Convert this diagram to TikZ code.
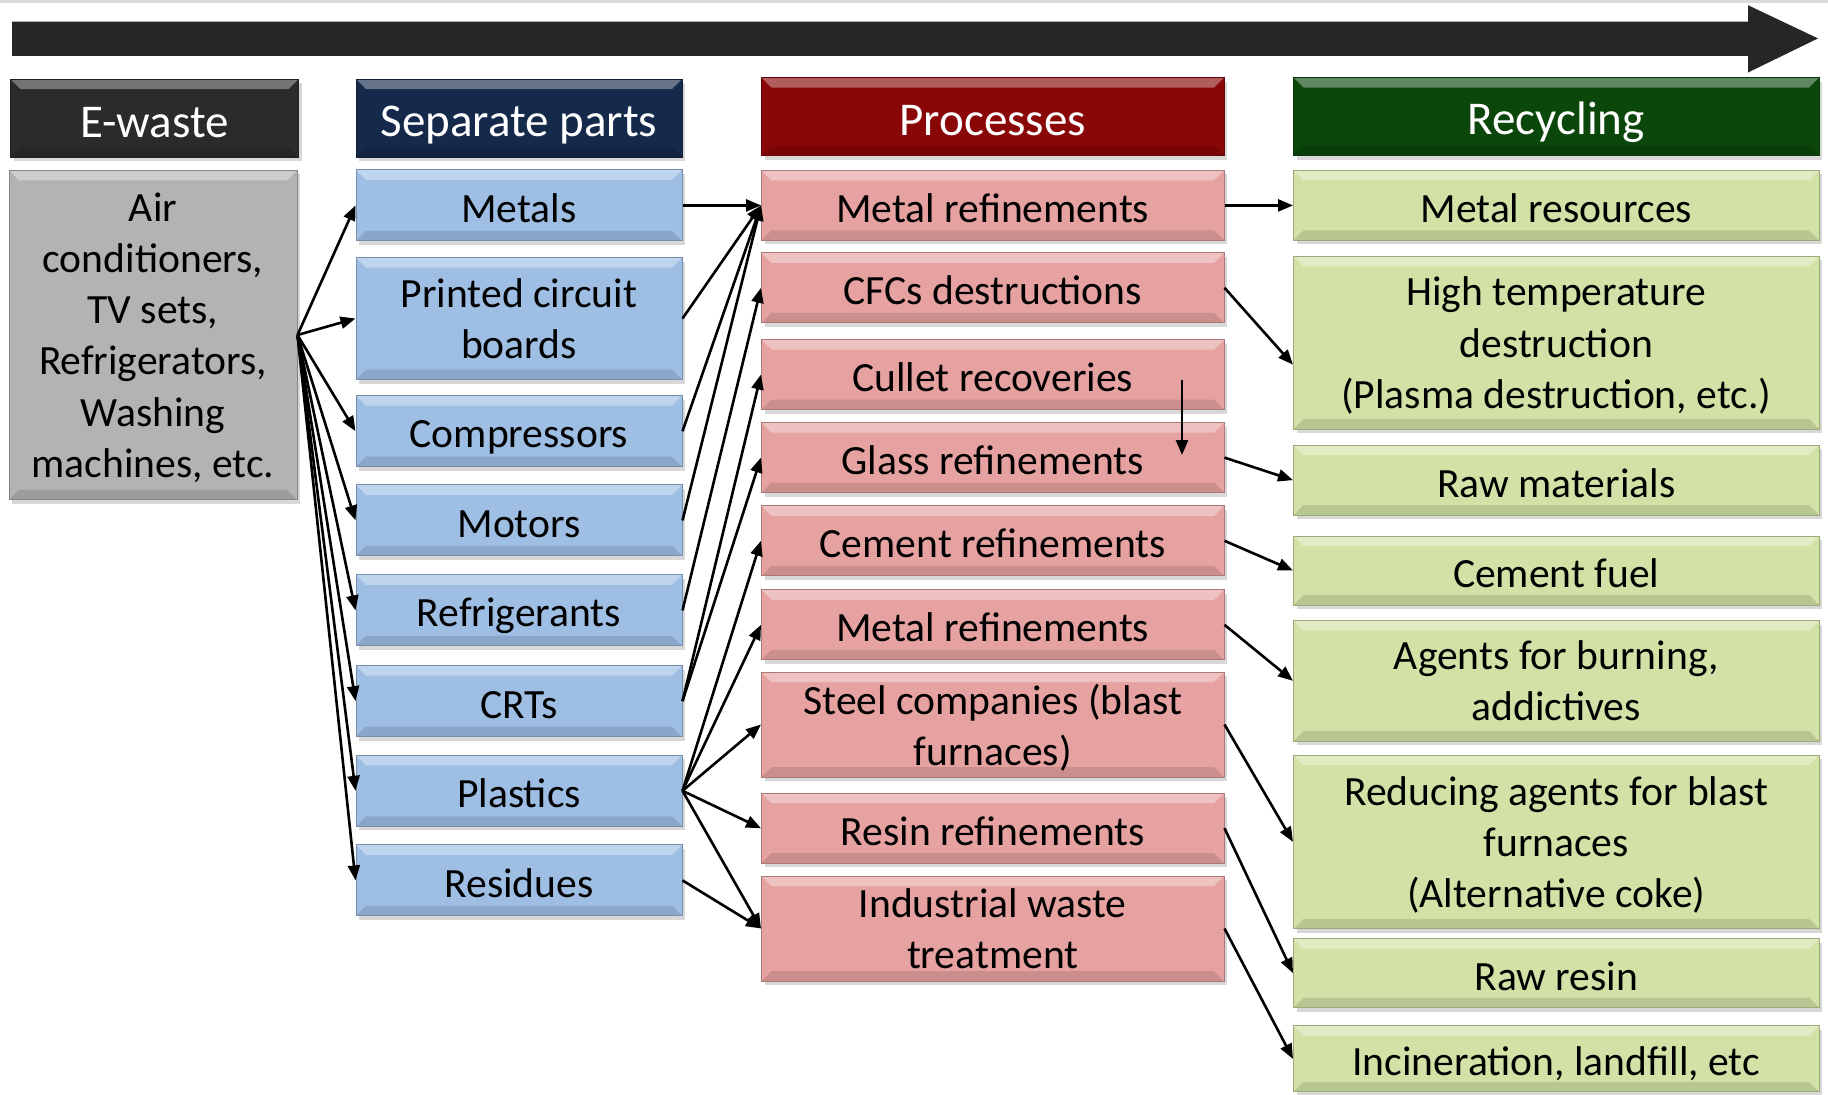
\documentclass[tikz,border=0pt]{standalone}
\usepackage{fontspec}
\setmainfont{Carlito}
\usetikzlibrary{arrows.meta}
\usetikzlibrary{shadows}
\definecolor{arrowColor}{HTML}{262626}
\definecolor{edgeColor}{HTML}{DADADA}
\definecolor{wasteHeadColor}{HTML}{2B2B2B}
\definecolor{wasteColor}{HTML}{B3B3B3}
\definecolor{partHeadColor}{HTML}{15294A}
\definecolor{partColor}{HTML}{9EBEE4}
\definecolor{processHeadColor}{HTML}{8A0707}
\definecolor{processColor}{HTML}{E6A2A1}
\definecolor{recycleHeadColor}{HTML}{0B470B}
\definecolor{recycleColor}{HTML}{D2E2A7}

\tikzset{
  bevelBox/.style={rectangle, inner sep=0pt, align=center, line width=0.5pt,
    draw=#1!75!black, fill=#1,
    drop shadow={shadow xshift=1.5pt, shadow yshift=-2pt, opacity=0.3},
    path picture={
      \fill[white, opacity=0.35] (path picture bounding box.north west) -- (path picture bounding box.north east)
        -- ([xshift=-5pt,yshift=-5pt]path picture bounding box.north east) -- ([xshift=5pt,yshift=-5pt]path picture bounding box.north west) -- cycle;
      \fill[black, opacity=0.12] (path picture bounding box.south west) -- (path picture bounding box.south east)
        -- ([xshift=-5pt,yshift=5pt]path picture bounding box.south east) -- ([xshift=5pt,yshift=5pt]path picture bounding box.south west) -- cycle;
    }},
  headBox/.style={bevelBox=#1, text=white, minimum height=39pt, font=\fontsize{23.5}{28}\selectfont,
    execute at begin node={\rule[-3pt]{0pt}{25pt}}, execute at end node={\rule[-3pt]{0pt}{25pt}}},
  textBox/.style={bevelBox=#1, text=black, font=\fontsize{20.8}{25.6}\selectfont,
    execute at begin node={\rule[-3pt]{0pt}{23pt}}, execute at end node={\rule[-3pt]{0pt}{23pt}}},
  multiLine/.style={text depth=-3.5pt},
  partBox/.style={textBox=partColor, minimum width=163pt, minimum height=35.5pt},
  processBox/.style={textBox=processColor, minimum width=231.25pt, minimum height=35pt},
  recycleBox/.style={textBox=recycleColor, minimum width=262.75pt, minimum height=35pt},
  flow/.style={-{Triangle[length=7.5pt,width=6pt]}, line width=1.3pt},
}

\begin{document}
\begin{tikzpicture}[x=0.5pt,y=-0.5pt]
  \useasboundingbox[fill=white] (0,0) rectangle (1828,1094);
  \fill[edgeColor] (0,0) rectangle (1828,3);
  \fill[arrowColor] (12,21.6) -- (1748,21.6) -- (1748,5.2) -- (1818,38.4) -- (1748,72.5) -- (1748,55.8) -- (12,55.8) -- cycle;

  \node[headBox=wasteHeadColor, minimum width=144pt] (wasteHead) at (154.5,118) {E-waste};
  \node[headBox=partHeadColor, minimum width=163pt] (partHead) at (519,118) {Separate parts};
  \node[headBox=processHeadColor, minimum width=231.25pt] (processHead) at (992.75,116.5) {Processes};
  \node[headBox=recycleHeadColor, minimum width=262.75pt] (recycleHead) at (1556.25,116.5) {Recycling};

  \node[textBox=wasteColor, multiLine, minimum width=144pt, minimum height=164.75pt] (ewaste) at (153,335)
    {Air\\conditioners,\\TV sets,\\Refrigerators,\\Washing\\machines, etc.};

  \node[partBox] (metals) at (519,205.4) {Metals};
  \node[partBox, multiLine, minimum height=61pt] (pcb) at (519,318.5) {Printed circuit\\boards};
  \node[partBox] (comp) at (519,431.2) {Compressors};
  \node[partBox] (motors) at (519,520.4) {Motors};
  \node[partBox] (refr) at (519,610.4) {Refrigerants};
  \node[partBox] (crts) at (519,701.1) {CRTs};
  \node[partBox] (plast) at (519,790.8) {Plastics};
  \node[partBox] (resid) at (519,880.4) {Residues};

  \node[processBox] (mr1) at (992.75,205.4) {Metal refinements};
  \node[processBox] (cfc) at (992.75,287.8) {CFCs destructions};
  \node[processBox] (cullet) at (992.75,374.5) {Cullet recoveries};
  \node[processBox] (glass) at (992.75,457.6) {Glass refinements};
  \node[processBox] (cement) at (992.75,540.8) {Cement refinements};
  \node[processBox] (mr2) at (992.75,624.8) {Metal refinements};
  \node[processBox, multiLine, minimum height=52.5pt] (steel) at (992.75,724.5) {Steel companies (blast\\furnaces)};
  \node[processBox] (resin) at (992.75,828.2) {Resin refinements};
  \node[processBox, multiLine, minimum height=52.5pt] (indust) at (992.75,928.5) {Industrial waste\\treatment};

  \node[recycleBox] (metres) at (1556.25,205.4) {Metal resources};
  \node[recycleBox, multiLine, minimum height=86.3pt] (hightemp) at (1556.25,342.7) {High temperature\\destruction\\(Plasma destruction, etc.)};
  \node[recycleBox] (rawmat) at (1556.25,480.1) {Raw materials};
  \node[recycleBox, minimum height=34.5pt] (cemfuel) at (1556.25,570.5) {Cement fuel};
  \node[recycleBox, multiLine, minimum height=60.25pt] (agents) at (1556.25,680.8) {Agents for burning,\\addictives};
  \node[recycleBox, multiLine, minimum height=86.9pt] (reducing) at (1556.25,841.9) {Reducing agents for blast\\furnaces\\(Alternative coke)};
  \node[recycleBox, minimum height=34.5pt] (rawresin) at (1556.25,973.1) {Raw resin};
  \node[recycleBox, minimum height=33pt] (incin) at (1556.25,1058.9) {Incineration, landfill, etc};

  \foreach \part in {metals,pcb,comp,motors,refr,crts,plast,resid}
    \draw[flow] (ewaste.east) -- (\part.west);

  \draw[flow] (metals.east) -- (mr1.west);
  \draw[flow] (pcb.east) -- (mr1.west);
  \draw[flow] (comp.east) -- (mr1.west);
  \draw[flow] (motors.east) -- (mr1.west);
  \draw[flow] (refr.east) -- (cfc.west);
  \draw[flow] (crts.east) -- (cullet.west);
  \draw[flow] (crts.east) -- (glass.west);
  \draw[flow] (plast.east) -- (cement.west);
  \draw[flow] (plast.east) -- (mr2.west);
  \draw[flow] (plast.east) -- (steel.west);
  \draw[flow] (plast.east) -- (resin.west);
  \draw[flow] (plast.east) -- (indust.west);
  \draw[flow] (resid.east) -- (indust.west);

  \coordinate (dropTop) at (1182,380);
  \coordinate (dropEnd) at (1182,455);
  \draw[flow] (dropTop) -- (dropEnd);

  \draw[flow] (mr1.east) -- (metres.west);
  \draw[flow] (cfc.east) -- ([yshift=-11pt]hightemp.west);
  \draw[flow] (glass.east) -- (rawmat.west);
  \draw[flow] (cement.east) -- (cemfuel.west);
  \draw[flow] (mr2.east) -- (agents.west);
  \draw[flow] (steel.east) -- (reducing.west);
  \draw[flow] (resin.east) -- (rawresin.west);
  \draw[flow] (indust.east) -- (incin.west);
\end{tikzpicture}
\end{document}
